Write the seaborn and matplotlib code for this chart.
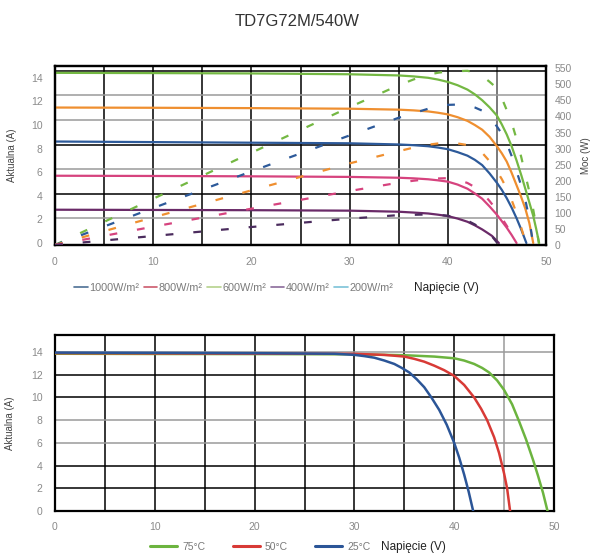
import matplotlib
matplotlib.use("Agg")
import matplotlib.pyplot as plt
from matplotlib.lines import Line2D
import seaborn as sns

# ================================
# DATA
# ================================
TITLE = "TD7G72M/540W"

# krzywe I-V oraz mocy dla natezenia promieniowania
v_1000 = [0, 10, 20, 30, 35, 36.5, 38, 39, 40, 41, 42, 42.75, 43.5, 44.25, 45, 45.5, 46,
          46.5, 47, 47.5, 48, 48.35, 48.7, 49.0, 49.3]
i_1000 = [14.42, 14.40, 14.37, 14.30, 14.20, 14.12, 14.0, 13.85, 13.65, 13.37, 13.0, 12.6, 12.1,
          11.5, 10.8, 10.05, 9.2, 8.2, 7.0, 5.7, 4.3, 3.3, 2.3, 1.2, 0]
p_1000 = [0, 144, 287, 429, 497, 515, 530, 536, 540, 541, 542, 537, 526, 508, 488, 457, 420,
          381, 330, 271, 205, 160, 110, 59, 0]

v_800 = [0, 10, 20, 30, 35, 36.5, 38, 39, 40, 41, 42, 42.75, 43.5, 44.25, 45, 45.5, 46,
         46.5, 47, 47.45, 47.9, 48.3, 48.7]
i_800 = [11.48, 11.46, 11.43, 11.38, 11.30, 11.24, 11.15, 11.04, 10.9, 10.66, 10.35, 10.0, 9.6,
         9.0, 8.2, 7.6, 6.9, 5.95, 4.9, 3.95, 2.9, 1.7, 0]
p_800 = [0, 115, 229, 341, 396, 410, 424, 430, 436, 437, 435, 428, 418, 398, 369, 346, 317,
         277, 230, 187, 139, 82, 0]

v_600 = [0, 10, 20, 30, 35, 36.5, 38, 39, 40, 41, 42, 42.75, 43.5, 44.25, 45, 45.5, 46,
         46.5, 47, 47.5, 48]
i_600 = [8.6, 8.55, 8.5, 8.45, 8.35, 8.29, 8.2, 8.09, 7.95, 7.7, 7.4, 7.05, 6.6, 5.9, 5.1, 4.5,
         3.8, 3.0, 2.1, 1.1, 0]
p_600 = [0, 86, 170, 254, 292, 303, 312, 316, 318, 316, 311, 301, 287, 261, 230, 205, 175,
         140, 99, 52, 0]

v_400 = [0, 10, 20, 30, 35, 36.5, 38, 39, 40, 41, 42, 42.75, 43.5, 44.25, 45, 45.5, 46, 46.5, 47]
i_400 = [5.7, 5.68, 5.65, 5.6, 5.53, 5.48, 5.4, 5.31, 5.2, 4.95, 4.6, 4.2, 3.75, 3.1, 2.4, 1.85,
         1.3, 0.68, 0]
p_400 = [0, 57, 113, 168, 194, 200, 205, 207, 208, 203, 193, 180, 163, 137, 108, 84, 60, 32, 0]

v_200 = [0, 10, 20, 30, 35, 36.5, 38, 39, 40, 41, 42, 42.75, 43.5, 44, 44.5, 45.2]
i_200 = [2.82, 2.8, 2.78, 2.74, 2.65, 2.58, 2.5, 2.4, 2.28, 2.07, 1.8, 1.5, 1.15, 0.88, 0.6, 0]
p_200 = [0, 28, 56, 82, 93, 94, 95, 94, 91, 85, 76, 64, 50, 39, 27, 0]

irr_labels = ["1000W/m²", "800W/m²", "600W/m²", "400W/m²", "200W/m²"]

# krzywe I-V dla temperatury
v_75 = [0, 10, 20, 30, 35, 38, 40, 41, 42, 42.8, 43.5, 44.3, 45, 45.8, 46.5, 47.2, 47.9,
        48.4, 48.9, 49.35]
i_75 = [13.85, 13.83, 13.82, 13.8, 13.72, 13.6, 13.45, 13.25, 12.95, 12.6, 12.2, 11.5, 10.66,
        9.4, 7.9, 6.3, 4.5, 3.1, 1.6, 0]

v_50 = [0, 10, 20, 30, 33, 35, 36, 37, 38, 39, 40, 41, 42, 42.7, 43.3, 44, 44.5, 45, 45.3, 45.6]
i_50 = [13.9, 13.88, 13.86, 13.84, 13.75, 13.6, 13.4, 13.15, 12.8, 12.4, 11.9, 11.1, 10.0, 9.0,
        8.0, 6.5, 5.1, 3.3, 2.0, 0]

v_25 = [0, 10, 20, 28, 30, 31, 32, 33, 34, 34.75, 35.5, 36.25, 37, 37.75, 38.5, 39.25, 40,
        40.5, 41, 41.45, 41.9]
i_25 = [13.95, 13.93, 13.9, 13.85, 13.75, 13.64, 13.5, 13.25, 12.95, 12.6, 12.2, 11.6, 10.9,
        9.95, 8.9, 7.6, 6.0, 4.7, 3.2, 1.7, 0]

temp_labels = ["75°C", "50°C", "25°C"]

x_ticks = [0, 10, 20, 30, 40, 50]
i_ticks = [0, 2, 4, 6, 8, 10, 12, 14]
p_ticks = list(range(0, 551, 50))

# ================================
# STYLE
# ================================
sns.set_theme(style="white")
plt.rcParams['font.family'] = ['Liberation Sans', 'DejaVu Sans']

TICK_C = "#8a8a8a"
GREEN, ORANGE, BLUE, PINK, PURPLE = "#74b843", "#ef8f30", "#2d5a9a", "#d6437e", "#6a2a68"

fig = plt.figure(figsize=(5.95, 5.53), dpi=100)
fig.text(0.5, 1 - 22 / 553, TITLE, ha="center", va="center", fontsize=12, color="#333333")


def style_axes(ax):
    for s in ax.spines.values():
        s.set_color("black")
        s.set_linewidth(1.6)
    ax.tick_params(length=0, labelsize=7.5, colors=TICK_C)
    ax.grid(False)


# ================================
# GORNY WYKRES
# ================================
ax = fig.add_axes([55 / 595, 1 - 245 / 553, 491 / 595, 179 / 553])
ax2 = ax.twinx()
style_axes(ax)
style_axes(ax2)

# siatka
for v in [5, 10, 15, 20, 25, 30, 35, 40]:
    ax.axvline(v, color="black", lw=1.1, zorder=1)
ax.axvline(45, color="#555555", lw=1.1, zorder=1)
grid_top = [2.08, 4.17, 6.25, 8.33, 10.42, 12.5, 14.6]
grid_top_c = ["#9a9a9a", "black", "#9a9a9a", "black", "#9a9a9a", "#9a9a9a", "black"]
for g, c in zip(grid_top, grid_top_c):
    ax.axhline(g, color=c, lw=1.1, zorder=1)

iv_sets = [(v_1000, i_1000, GREEN), (v_800, i_800, ORANGE), (v_600, i_600, BLUE),
           (v_400, i_400, PINK), (v_200, i_200, PURPLE)]
for vv, ii, c in iv_sets:
    sns.lineplot(x=vv, y=ii, color=c, lw=1.6, ax=ax, sort=False, estimator=None, zorder=3)

pw_sets = [(v_1000, p_1000, GREEN), (v_800, p_800, BLUE), (v_600, p_600, ORANGE),
           (v_400, p_400, PINK), (v_200, p_200, "#4b2c5e")]
for vv, pp, c in pw_sets:
    sns.lineplot(x=vv, y=pp, color=c, lw=1.6, ax=ax2, sort=False, estimator=None,
                 linestyle=(0, (3.5, 9)), zorder=3)

ax.set_xlim(0, 50)
ax.set_ylim(-0.17, 15.0)
ax2.set_ylim(0, 557)
ax.set_xticks(x_ticks)
ax.set_yticks(i_ticks)
ax2.set_yticks(p_ticks)
ax.tick_params(axis="x", pad=9)
ax.tick_params(axis="y", pad=9)
ax2.tick_params(axis="y", pad=6)
ax.set_ylabel("Aktualna (A)", fontsize=7, color="#444444")
ax.yaxis.set_label_coords(-0.077, 0.5)
ax2.set_ylabel("Moc (W)", fontsize=7, color="#444444")
ax2.yaxis.set_label_coords(1.072, 0.5)
ax.set_xlabel("")

leg_cols = ["#4d6f95", "#cc5a6c", "#b5d28c", "#8b6b9b", "#7cc2d8"]
handles = [Line2D([0], [0], color=c, lw=1.2) for c in leg_cols]
fig.legend(handles, irr_labels, loc="center left", bbox_to_anchor=(70 / 595, 1 - 288 / 553),
           ncol=5, frameon=False, fontsize=7.8, handlelength=1.25, handletextpad=0.15,
           columnspacing=0.4, labelcolor="#7a7a7a", borderaxespad=0)
fig.text(414 / 595, 1 - 288 / 553, "Napięcie (V)", ha="left", va="center", fontsize=8.5, color="#222222")

# ================================
# DOLNY WYKRES
# ================================
bx = fig.add_axes([55 / 595, 1 - 511 / 553, 499 / 595, 176 / 553])
style_axes(bx)
for v in [5, 10, 15, 20, 25, 30, 35, 40]:
    bx.axvline(v, color="black", lw=1.1, zorder=1)
bx.axvline(45, color="#9a9a9a", lw=1.1, zorder=1)
grid_bot_c = {2: "black", 4: "black", 6: "#9a9a9a", 8: "#9a9a9a", 10: "black", 12: "black", 14: "#9a9a9a"}
for g, c in grid_bot_c.items():
    bx.axhline(g, color=c, lw=1.1, zorder=1)

T_GREEN, T_RED, T_BLUE = "#6cb43f", "#d83a36", "#2b5597"
for vv, ii, c in [(v_75, i_75, T_GREEN), (v_50, i_50, T_RED), (v_25, i_25, T_BLUE)]:
    sns.lineplot(x=vv, y=ii, color=c, lw=1.8, ax=bx, sort=False, estimator=None, zorder=3)

bx.set_xlim(0, 50)
bx.set_ylim(0, 15.5)
bx.set_xticks(x_ticks)
bx.set_yticks(i_ticks)
bx.tick_params(axis="x", pad=8)
bx.tick_params(axis="y", pad=9)
bx.set_ylabel("Aktualna (A)", fontsize=7, color="#444444")
bx.yaxis.set_label_coords(-0.08, 0.5)

t_handles = [Line2D([0], [0], color=c, lw=2.2) for c in [T_GREEN, T_RED, T_BLUE]]
fig.legend(t_handles, temp_labels, loc="center left", bbox_to_anchor=(146 / 595, 1 - 547 / 553),
           ncol=3, frameon=False, fontsize=7.5, handlelength=2.6, handletextpad=0.5,
           columnspacing=2.6, labelcolor="#7a7a7a", borderaxespad=0)
fig.text(381 / 595, 1 - 547 / 553, "Napięcie (V)", ha="left", va="center", fontsize=8.5, color="#222222")

plt.savefig("out.png", dpi=100)
plt.close()
